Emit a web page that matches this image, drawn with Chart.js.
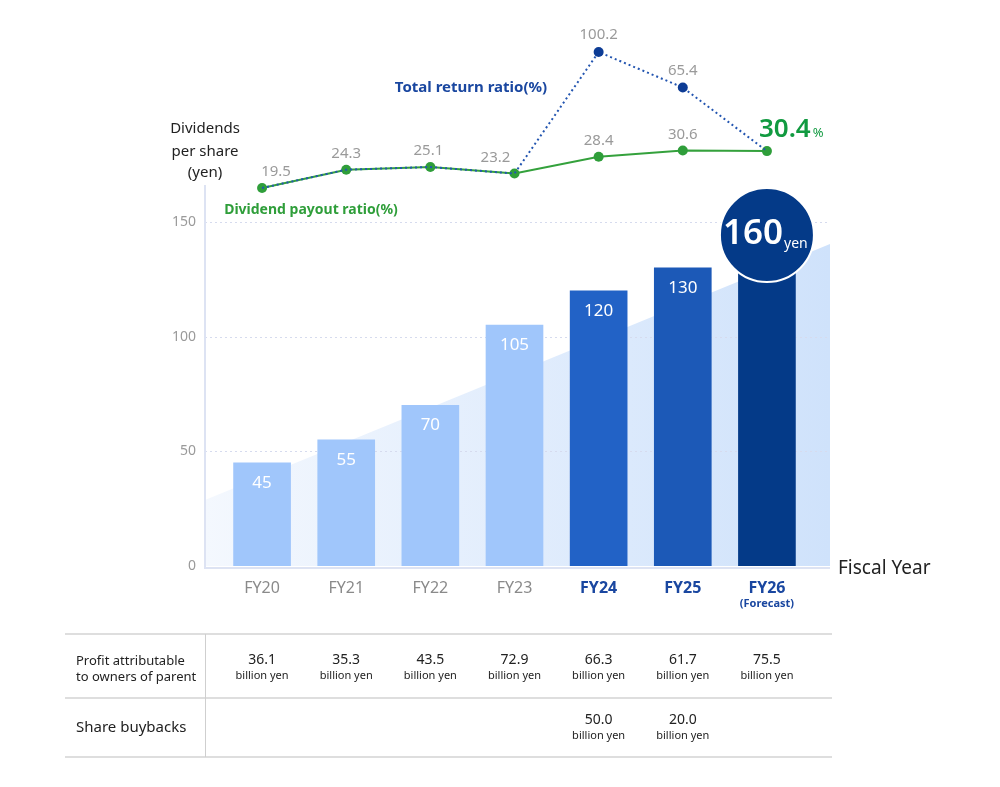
<!DOCTYPE html>
<html>
<head>
<meta charset="utf-8">
<script src="https://cdn.jsdelivr.net/npm/chart.js@4.4.1/dist/chart.umd.min.js"></script>
<style>
  html, body { margin: 0; padding: 0; background: #fff; }
  #wrap { position: relative; width: 1000px; height: 787px; }
</style>
</head>
<body>
<div id="wrap"><canvas id="chartDiv"></canvas></div>
<script>
// datos
const categories = ['FY20', 'FY21', 'FY22', 'FY23', 'FY24', 'FY25', 'FY26'];
const dividends = [45, 55, 70, 105, 120, 130, 160];
const payoutRatio = [19.5, 24.3, 25.1, 23.2, 28.4, 30.6, 30.4];
const totalReturnRatio = [19.5, 24.3, 25.1, 23.2, 100.2, 65.4, 30.4];
const profit = [36.1, 35.3, 43.5, 72.9, 66.3, 61.7, 75.5];
const buybacks = [null, null, null, null, 50.0, 20.0, null];
const yTicks = [0, 50, 100, 150];

const FONT = '"Noto Sans", "Open Sans", sans-serif';
const NAVY = '#1a47a0';
const GREEN = '#2f9e3a';
const barColors = ['#a0c6fb', '#a0c6fb', '#a0c6fb', '#a0c6fb', '#2262c6', '#1c59b7', '#043a88'];
const labelDx = [14, 0, -2, -19, 0, 0, 0];

function txt(ctx, s, x, y, font, color, align) {
  ctx.font = font;
  ctx.fillStyle = color;
  ctx.textAlign = align || 'center';
  ctx.textBaseline = 'middle';
  ctx.fillText(s, x, y);
}

const decor = {
  id: 'decor',
  beforeDatasetsDraw(chart) {
    const { ctx, chartArea: a, scales: { x, y } } = chart;
    const left = a.left - 15, right = a.right + 21;
    const y0 = y.getPixelForValue(0);
    ctx.save();
    // fondo triangular
    const g = ctx.createLinearGradient(left, 0, right, 0);
    g.addColorStop(0, '#f4f8fe');
    g.addColorStop(1, '#cfe2fb');
    ctx.fillStyle = g;
    ctx.beginPath();
    ctx.moveTo(left, y.getPixelForValue(28.8));
    ctx.lineTo(right, y.getPixelForValue(140.4));
    ctx.lineTo(right, y0);
    ctx.lineTo(left, y0);
    ctx.closePath();
    ctx.fill();
    // grilla punteada
    ctx.strokeStyle = '#d6dbee';
    ctx.lineWidth = 1;
    ctx.setLineDash([2, 3]);
    yTicks.slice(1).forEach(v => {
      const py = Math.round(y.getPixelForValue(v)) + 0.5;
      ctx.beginPath(); ctx.moveTo(left, py); ctx.lineTo(right, py); ctx.stroke();
    });
    ctx.setLineDash([]);
    // ejes
    ctx.strokeStyle = '#dde3f3';
    ctx.lineWidth = 2;
    ctx.beginPath();
    ctx.moveTo(left, 185); ctx.lineTo(left, y0 + 2); ctx.lineTo(right, y0 + 2);
    ctx.stroke();
    yTicks.forEach(v => txt(ctx, String(v), left - 9, y.getPixelForValue(v), '14px ' + FONT, '#9a9a9a', 'right'));
    ctx.restore();
  },
  afterDatasetsDraw(chart) {
    const { ctx, scales: { x, y, y2 } } = chart;
    ctx.save();
    const bars = chart.getDatasetMeta(0).data;
    // etiquetas en barras
    bars.forEach((b, i) => {
      if (i === bars.length - 1) return;
      txt(ctx, String(dividends[i]), b.x, b.y + 20, '17px ' + FONT, '#ffffff');
    });
    // círculo 160 yen (tapa la parte superior de la barra)
    const last = bars[bars.length - 1];
    const r = 47;
    const cy = last.y + 36;
    ctx.beginPath();
    ctx.arc(last.x, cy, r, 0, Math.PI * 2);
    ctx.fillStyle = '#043a88';
    ctx.fill();
    ctx.lineWidth = 2;
    ctx.strokeStyle = '#ffffff';
    ctx.stroke();
    txt(ctx, String(dividends[dividends.length - 1]), last.x - 14, cy - 1, '600 35px ' + FONT, '#ffffff');
    txt(ctx, 'yen', last.x + 29, cy + 9, '14px ' + FONT, '#ffffff');

    // etiquetas de líneas
    const green = chart.getDatasetMeta(1).data;
    const blue = chart.getDatasetMeta(2).data;
    green.forEach((p, i) => {
      if (i === green.length - 1) return;
      txt(ctx, payoutRatio[i].toFixed(1), p.x + labelDx[i], p.y - 16, '15px ' + FONT, '#9a9a9a');
    });
    [4, 5].forEach(i => {
      txt(ctx, totalReturnRatio[i].toFixed(1), blue[i].x, blue[i].y - 17, '15px ' + FONT, '#9a9a9a');
    });
    const pl = green[green.length - 1];
    ctx.font = '600 26px ' + FONT;
    const w = ctx.measureText('30.4').width;
    txt(ctx, payoutRatio[6].toFixed(1), pl.x - 8, pl.y - 22, '600 26px ' + FONT, '#119a40', 'left');
    txt(ctx, '%', pl.x - 6 + w, pl.y - 18, '13px ' + FONT, '#119a40', 'left');

    txt(ctx, 'Total return ratio(%)', 471, 88, 'bold 15px ' + FONT, NAVY);
    txt(ctx, 'Dividend payout ratio(%)', 311, 210, 'bold 14px ' + FONT, GREEN);
    ['Dividends', 'per share', '(yen)'].forEach((s, k) =>
      txt(ctx, s, 205, [129, 152, 173][k], '15px ' + FONT, '#222222'));

    // etiquetas eje x
    categories.forEach((c, i) => {
      const px = x.getPixelForValue(i);
      if (i < 4) txt(ctx, c, px, 588, '16px ' + FONT, '#8a8a8a');
      else txt(ctx, c, px, 588, 'bold 16px ' + FONT, NAVY);
      if (i === 6) txt(ctx, '(Forecast)', px, 604, 'bold 11px ' + FONT, NAVY);
    });
    txt(ctx, 'Fiscal Year', 838, 569, '19px ' + FONT, '#222222', 'left');

    // tabla
    ctx.strokeStyle = '#dedede';
    ctx.lineWidth = 2;
    [634, 698, 757].forEach(py => {
      ctx.beginPath(); ctx.moveTo(65, py); ctx.lineTo(832, py); ctx.stroke();
    });
    ctx.strokeStyle = '#cfcfcf';
    ctx.lineWidth = 1;
    ctx.beginPath(); ctx.moveTo(205.5, 634); ctx.lineTo(205.5, 757); ctx.stroke();
    txt(ctx, 'Profit attributable', 76, 661, '13px ' + FONT, '#222222', 'left');
    txt(ctx, 'to owners of parent', 76, 677, '13px ' + FONT, '#222222', 'left');
    txt(ctx, 'Share buybacks', 76, 728, '15px ' + FONT, '#222222', 'left');
    categories.forEach((c, i) => {
      const px = x.getPixelForValue(i);
      txt(ctx, profit[i].toFixed(1), px, 660, '14px ' + FONT, '#222222');
      txt(ctx, 'billion yen', px, 676, '11px ' + FONT, '#222222');
      if (buybacks[i] != null) {
        txt(ctx, buybacks[i].toFixed(1), px, 720, '14px ' + FONT, '#222222');
        txt(ctx, 'billion yen', px, 736, '11px ' + FONT, '#222222');
      }
    });
    ctx.restore();
  }
};

new Chart(document.getElementById('chartDiv').getContext('2d'), {
  data: {
    labels: categories,
    datasets: [
      {
        type: 'bar', label: 'Dividends per share', data: dividends, yAxisID: 'y',
        backgroundColor: barColors, barThickness: 57, borderWidth: 0, order: 3
      },
      {
        type: 'line', label: 'Dividend payout ratio(%)', data: payoutRatio, yAxisID: 'y2',
        borderColor: '#34a13c', backgroundColor: '#2f9e3a', borderWidth: 2,
        pointRadius: 5, pointHoverRadius: 5, pointBorderWidth: 0, tension: 0, order: 2
      },
      {
        type: 'line', label: 'Total return ratio(%)', data: totalReturnRatio, yAxisID: 'y2',
        borderColor: '#2355b0', backgroundColor: '#0d3c95', borderWidth: 2, borderDash: [2, 3],
        pointRadius: [0, 0, 0, 0, 5, 5, 0], pointBorderWidth: 0, tension: 0, order: 1
      }
    ]
  },
  options: {
    responsive: true, maintainAspectRatio: false, animation: false,
    layout: { padding: { left: 220, right: 191, top: 30, bottom: 221 } },
    plugins: { legend: { display: false }, tooltip: { enabled: false } },
    scales: {
      x: { type: 'category', display: false, offset: true, grid: { display: false } },
      y: { type: 'linear', display: false, min: 0, max: 233.7 },
      y2: { type: 'logarithmic', display: false, min: 0.206, max: 130.6 }
    }
  },
  plugins: [decor]
});
</script>
</body>
</html>
